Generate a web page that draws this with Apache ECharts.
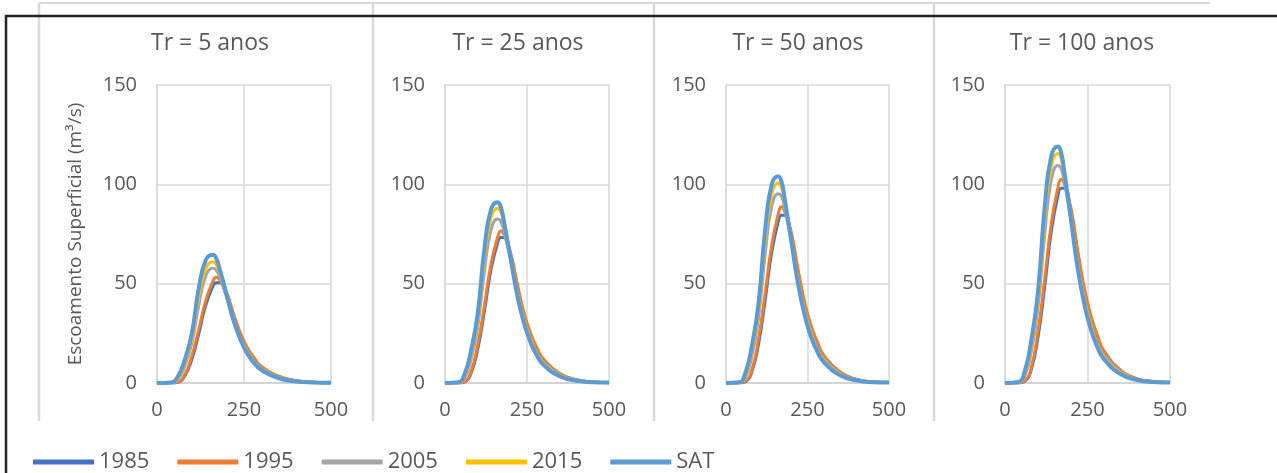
<!DOCTYPE html>
<html>
<head>
<meta charset="utf-8">
<title>Escoamento Superficial</title>
<script src="https://cdn.jsdelivr.net/npm/echarts@6/dist/echarts.min.js"></script>
<style>
  html, body { margin: 0; padding: 0; background: #fff; }
  #main { width: 1277px; height: 473px; }
</style>
</head>
<body>
<div id="main"></div>
<script>
// tempo (eixo x) e nomes
const times = [0, 40, 60, 80, 100, 120, 140, 160, 170, 180, 200, 220, 240, 260, 280, 300, 350, 400, 450, 500];
const seriesNames = ['1985', '1995', '2005', '2015', 'SAT'];
const panelTitles = ['Tr = 5 anos', 'Tr = 25 anos', 'Tr = 50 anos', 'Tr = 100 anos'];
const yTicks = [0, 50, 100, 150];
const xTicks = [0, 250, 500];

// Tr = 5 anos
const tr5_1985 = [0, 0, 0.4, 3.6, 11.8, 24.7, 39.1, 48.4, 50.5, 50.5, 44.3, 34, 24.2, 17, 11.8, 8.2, 3.2, 1.1, 0.4, 0.1];
const tr5_1995 = [0, 0, 0.5, 4.2, 13.5, 27, 41.5, 50.9, 53.2, 51.9, 45.7, 34.8, 24.9, 17.6, 12.5, 8.3, 3.4, 1.1, 0.4, 0.1];
const tr5_2005 = [0, 0.1, 1.8, 8.4, 20, 39, 53.8, 57.7, 56.9, 53.2, 43.2, 31.6, 22.7, 15.8, 10.5, 7.4, 2.9, 0.9, 0.3, 0.1];
const tr5_2015 = [0, 0.2, 2.4, 10, 22.2, 43.3, 57.6, 61, 59.7, 55.4, 43.8, 31.7, 22.2, 15.3, 10, 6.9, 2.6, 0.8, 0.3, 0.1];
const tr5_sat  = [0, 0.3, 3.3, 11.9, 24.9, 47.7, 61.8, 64.5, 62.9, 57.5, 44.4, 31.4, 21.7, 14.6, 9.8, 6.5, 2.4, 0.8, 0.3, 0.1];

// Tr = 25 anos
const tr25_1985 = [0, 0, 0.6, 5.2, 17.2, 35.9, 56.8, 70.3, 73.3, 73.3, 64.3, 49.4, 35.2, 24.7, 17.2, 12, 4.7, 1.6, 0.5, 0.1];
const tr25_1995 = [0, 0, 0.7, 6, 19.4, 38.8, 59.7, 73.1, 76.5, 74.6, 65.6, 50, 35.8, 25.4, 17.9, 11.9, 4.8, 1.6, 0.5, 0.1];
const tr25_2005 = [0, 0.2, 2.6, 12, 28.6, 55.7, 76.8, 82.5, 81.3, 76.1, 61.7, 45.2, 32.4, 22.6, 15.1, 10.5, 4.1, 1.4, 0.5, 0.2];
const tr25_2015 = [0, 0.2, 3.4, 14.5, 32, 62.5, 83.1, 88, 86.1, 80, 63.2, 45.7, 32, 22.1, 14.5, 9.9, 3.8, 1.2, 0.4, 0.2];
const tr25_sat  = [0, 0.4, 4.6, 16.8, 35.2, 67.3, 87.2, 91, 88.7, 81.1, 62.7, 44.4, 30.6, 20.7, 13.8, 9.2, 3.4, 1.1, 0.4, 0.2];

// Tr = 50 anos
const tr50_1985 = [0, 0, 0.7, 6, 19.8, 41.4, 65.5, 81, 84.5, 84.5, 74.1, 56.9, 40.5, 28.4, 19.8, 13.8, 5.4, 1.8, 0.6, 0.2];
const tr50_1995 = [0, 0, 0.9, 6.9, 22.5, 45, 69.2, 84.8, 88.7, 86.5, 76.1, 58, 41.5, 29.4, 20.8, 13.8, 5.6, 1.9, 0.6, 0.2];
const tr50_2005 = [0, 0.2, 3, 13.9, 33.1, 64.4, 88.7, 95.3, 94, 87.9, 71.3, 52.2, 37.4, 26.1, 17.4, 12.2, 4.8, 1.6, 0.5, 0.2];
const tr50_2015 = [0, 0.3, 3.9, 16.6, 36.6, 71.5, 95, 100.7, 98.5, 91.6, 72.4, 52.3, 36.6, 25.3, 16.6, 11.3, 4.4, 1.4, 0.4, 0.2];
const tr50_sat  = [0, 0.4, 5.3, 19.3, 40.3, 77, 99.8, 104.1, 101.5, 92.8, 71.8, 50.8, 35, 23.6, 15.8, 10.5, 3.9, 1.3, 0.4, 0.2];

// Tr = 100 anos
const tr100_1985 = [0, 0, 0.8, 7, 23, 48, 76, 94, 98, 98, 86, 66, 47, 33, 23, 16, 6.3, 2.1, 0.7, 0.2];
const tr100_1995 = [0, 0, 1, 8, 26, 52, 80, 98, 102.5, 100, 88, 67, 48, 34, 24, 16, 6.5, 2.2, 0.7, 0.2];
const tr100_2005 = [0, 0.2, 3.5, 16, 38, 74, 102, 109.5, 108, 101, 82, 60, 43, 30, 20, 14, 5.5, 1.8, 0.6, 0.2];
const tr100_2015 = [0, 0.3, 4.5, 19, 42, 82, 109, 115.5, 113, 105, 83, 60, 42, 29, 19, 13, 5, 1.6, 0.5, 0.2];
const tr100_sat  = [0, 0.5, 6, 22, 46, 88, 114, 119, 116, 106, 82, 58, 40, 27, 18, 12, 4.5, 1.5, 0.5, 0.2];

const panels = [
  [tr5_1985, tr5_1995, tr5_2005, tr5_2015, tr5_sat],
  [tr25_1985, tr25_1995, tr25_2005, tr25_2015, tr25_sat],
  [tr50_1985, tr50_1995, tr50_2005, tr50_2015, tr50_sat],
  [tr100_1985, tr100_1995, tr100_2005, tr100_2015, tr100_sat]
];

const colors = ['#4472C4', '#ED7D31', '#A5A5A5', '#FFC000', '#5B9BD5'];
const FONT = '"Open Sans", "Noto Sans", sans-serif';
const TXT = '#595959';
const GRIDC = '#d9d9d9';

// posicoes das areas de plotagem
const grids = [
  { left: 157, right: 946, top: 85, bottom: 90 },
  { left: 445, right: 668, top: 85, bottom: 90 },
  { left: 726, right: 388, top: 85, bottom: 90 },
  { left: 1005, right: 107, top: 85, bottom: 90 }
];
const titleX = [205, 513, 793, 1077];

const xAxes = grids.map((g, i) => ({
  type: 'value', gridIndex: i, min: xTicks[0], max: xTicks[xTicks.length - 1], interval: 250,
  axisLine: { show: true, lineStyle: { color: '#cfcfcf', width: 1.5 } },
  axisTick: { show: false },
  splitLine: { show: true, lineStyle: { color: GRIDC, width: 1.5 } },
  axisLabel: { color: TXT, fontFamily: FONT, fontSize: 20, margin: 17 }
}));
const yAxes = grids.map((g, i) => ({
  type: 'value', gridIndex: i, min: yTicks[0], max: yTicks[yTicks.length - 1], interval: 50,
  name: i === 0 ? 'Escoamento Superficial (m³/s)' : '',
  nameLocation: 'middle', nameGap: 72, nameRotate: 90,
  nameTextStyle: { color: TXT, fontFamily: FONT, fontSize: 19 },
  axisLine: { show: true, lineStyle: { color: GRIDC, width: 1.5 } },
  axisTick: { show: false },
  splitLine: { show: true, lineStyle: { color: GRIDC, width: 1.5 } },
  axisLabel: { color: TXT, fontFamily: FONT, fontSize: 20, margin: 20 }
}));

const series = [];
panels.forEach((vals, p) => {
  vals.forEach((arr, s) => {
    series.push({
      name: seriesNames[s],
      type: 'line',
      xAxisIndex: p, yAxisIndex: p,
      data: times.map((t, k) => [t, arr[k]]),
      smooth: 0.5,
      showSymbol: false,
      symbol: 'none',
      z: 2 + s,
      lineStyle: { color: colors[s], width: s === 4 ? 4 : 3 },
      itemStyle: { color: colors[s] }
    });
  });
});

const chart = echarts.init(document.getElementById('main'), null, { renderer: 'canvas' });
chart.setOption({
  animation: false,
  backgroundColor: '#fff',
  color: colors,
  title: panelTitles.map((t, i) => ({
    text: t, left: titleX[i], top: 27, textAlign: 'center',
    textStyle: { color: TXT, fontFamily: FONT, fontSize: 23, fontWeight: 'normal' }
  })),
  legend: {
    left: 28, top: 446,
    icon: 'rect', itemWidth: 61, itemHeight: 5, itemGap: 28,
    data: seriesNames,
    textStyle: { color: TXT, fontFamily: FONT, fontSize: 22, padding: [0, 0, 0, 0] }
  },
  grid: grids,
  xAxis: xAxes,
  yAxis: yAxes,
  series: series,
  graphic: [
    // molduras cinza dos graficos
    { type: 'line', shape: { x1: 39, y1: 3, x2: 1210, y2: 3 }, style: { stroke: GRIDC, lineWidth: 2 }, silent: true },
    { type: 'line', shape: { x1: 39, y1: 3, x2: 39, y2: 421 }, style: { stroke: GRIDC, lineWidth: 2.5 }, silent: true },
    { type: 'line', shape: { x1: 373, y1: 3, x2: 373, y2: 421 }, style: { stroke: GRIDC, lineWidth: 2.5 }, silent: true },
    { type: 'line', shape: { x1: 654, y1: 3, x2: 654, y2: 421 }, style: { stroke: GRIDC, lineWidth: 2.5 }, silent: true },
    { type: 'line', shape: { x1: 934, y1: 3, x2: 934, y2: 421 }, style: { stroke: GRIDC, lineWidth: 2.5 }, silent: true },
    // borda preta
    { type: 'line', shape: { x1: 5, y1: 16, x2: 1277, y2: 16 }, style: { stroke: '#222', lineWidth: 2.5 }, silent: true },
    { type: 'line', shape: { x1: 6, y1: 15, x2: 6, y2: 473 }, style: { stroke: '#222', lineWidth: 2.5 }, silent: true }
  ]
});
</script>
</body>
</html>
